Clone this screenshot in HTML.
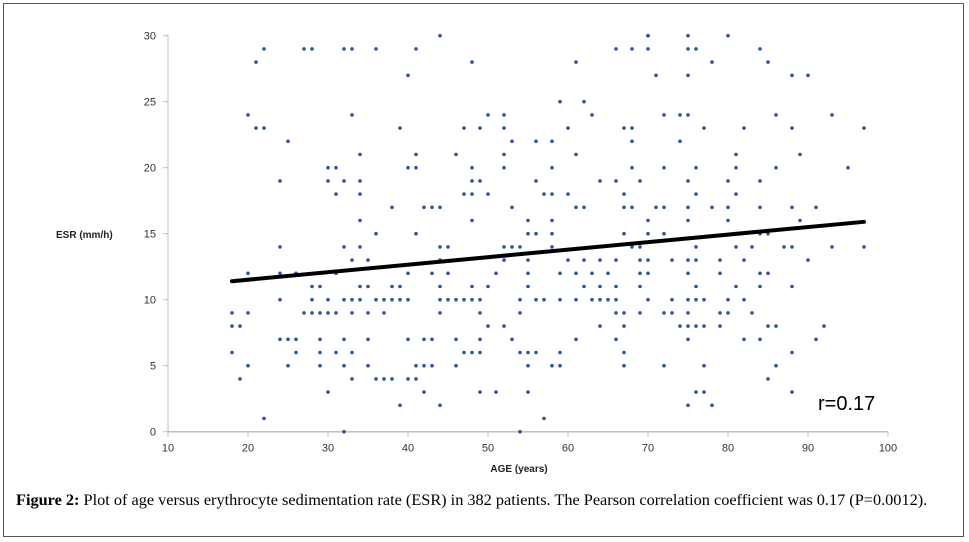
<!DOCTYPE html>
<html><head><meta charset="utf-8"><style>
body{margin:0;background:#fff;}
#wrap{position:relative;width:969px;height:542px;overflow:hidden;}
.frame{position:absolute;left:3px;top:3px;width:961px;height:534px;border:1px solid #555;box-sizing:border-box;}
.cap{position:absolute;left:16px;top:490px;font:16.3px "Liberation Serif",serif;color:#000;white-space:nowrap;}
</style></head><body>
<div id="wrap">
<div class="frame"></div>
<svg id="chart" width="969" height="542" style="position:absolute;left:0;top:0"></svg>
<div class="cap"><b>Figure 2:</b> Plot of age versus erythrocyte sedimentation rate (ESR) in 382 patients. The Pearson correlation coefficient was 0.17 (P=0.0012).</div>
</div>
<script>
const xTicks=[10,20,30,40,50,60,70,80,90,100];
const yTicks=[0,5,10,15,20,25,30];
const trendAges=[18,97];
const trendEsr=[11.4,15.9];
const esrLevels=[30,29,28,27,25,24,23,22,21,20,19,18,17,16,15,14,13,12,11,10,9,8,7,6,5,4,3,2,1,0];
const agesAtLevel=[
[44,70,70,75,80],
[22,27,28,32,33,36,41,66,68,70,75,76,84],
[21,48,61,78,85],
[40,71,75,88,90],
[59,62],
[20,33,50,52,63,72,74,75,86,93],
[21,22,39,47,49,52,60,67,68,77,82,88,97],
[25,53,56,58,68,74],
[34,41,46,52,61,81,89],
[30,31,40,41,48,52,58,68,72,76,81,86,95],
[24,30,32,34,48,49,56,64,66,69,75,80,84],
[31,34,47,48,50,57,58,60,67,76,81],
[38,42,43,44,53,61,62,67,68,71,72,75,78,80,84,88,91],
[34,48,55,58,70,75,80,89],
[36,41,55,56,58,67,70,72,84,85],
[24,32,34,44,45,52,53,54,58,68,69,76,81,83,87,88,93,97],
[33,35,44,52,55,60,62,64,66,69,70,73,75,76,79,82,90],
[20,24,26,31,40,43,45,51,55,59,61,63,65,69,70,75,79,84,85],
[28,29,34,35,38,39,44,48,50,55,62,64,66,69,76,81,84,88],
[24,28,30,32,33,34,36,37,38,39,40,44,45,46,47,48,49,54,56,57,59,61,63,64,65,66,70,73,75,76,77,80,82],
[18,20,27,28,29,30,31,33,35,37,44,49,54,66,67,69,72,73,75,79,80,83],
[18,19,50,52,64,67,74,75,76,77,79,85,86,92],
[24,25,26,29,32,35,40,42,43,46,49,53,61,66,75,82,84,91],
[18,26,29,31,33,47,48,49,54,55,56,59,67,88],
[20,25,29,32,35,41,42,43,46,55,58,59,67,72,77,86],
[19,33,36,37,38,40,41,85],
[30,42,49,51,55,76,77,88],
[39,44,75,78],
[22,57],
[32,54]
];
const svg=document.getElementById('chart');
const NS='http://www.w3.org/2000/svg';
const X0=168,X1=888,Y0=431.7,Y1=35.7;
function sx(v){return X0+(v-10)/(100-10)*(X1-X0);}
function sy(v){return Y0-(v-0)/(30-0)*(Y0-Y1);}
function mk(t,a){const e=document.createElementNS(NS,t);for(const k in a)e.setAttribute(k,a[k]);svg.appendChild(e);return e;}
let e;
e=mk('line',{x1:X0,y1:Y1-1,x2:X0,y2:Y0,stroke:'#bfbfbf','stroke-width':1});


e=mk('line',{x1:X0,y1:Y0,x2:X1,y2:Y0,stroke:'#bfbfbf','stroke-width':1.5});


yTicks.forEach(v=>{
 e=mk('line',{x1:X0-5,y1:sy(v),x2:X0,y2:sy(v),stroke:'#bfbfbf'});
 
 
 e=mk('text',{x:X0-12,y:sy(v)+4,'text-anchor':'end','font-size':11,'font-family':'Liberation Sans, sans-serif',fill:'#333'});
 e.textContent=v;
 
 
});
xTicks.forEach(v=>{
 e=mk('line',{x1:sx(v),y1:Y0,x2:sx(v),y2:Y0+5,stroke:'#bfbfbf'});
 
 
 e=mk('text',{x:sx(v),y:Y0+20,'text-anchor':'middle','font-size':11,'font-family':'Liberation Sans, sans-serif',fill:'#333'});
 e.textContent=v;
 
 
});
esrLevels.forEach((lv,i)=>{
 agesAtLevel[i].forEach(a=>{
  e=mk('circle',{cx:sx(a),cy:sy(lv),r:1.8,fill:'#2f5597'});
  
  
 });
});
e=mk('line',{x1:sx(trendAges[0]),y1:sy(trendEsr[0]),x2:sx(trendAges[1]),y2:sy(trendEsr[1]),stroke:'#000','stroke-width':4,'stroke-linecap':'round'});


e=mk('text',{x:56,y:238,'font-size':10,'font-weight':'bold','font-family':'Liberation Sans, sans-serif',fill:'#222'});
e.textContent='ESR (mm/h)';


e=mk('text',{x:519,y:472,'text-anchor':'middle','font-size':10,'font-weight':'bold','font-family':'Liberation Sans, sans-serif',fill:'#222'});
e.textContent='AGE (years)';


e=mk('text',{x:818,y:410,'font-size':20,'font-family':'Liberation Sans, sans-serif',fill:'#000'});
e.textContent='r=0.17';


</script>
</body></html>
